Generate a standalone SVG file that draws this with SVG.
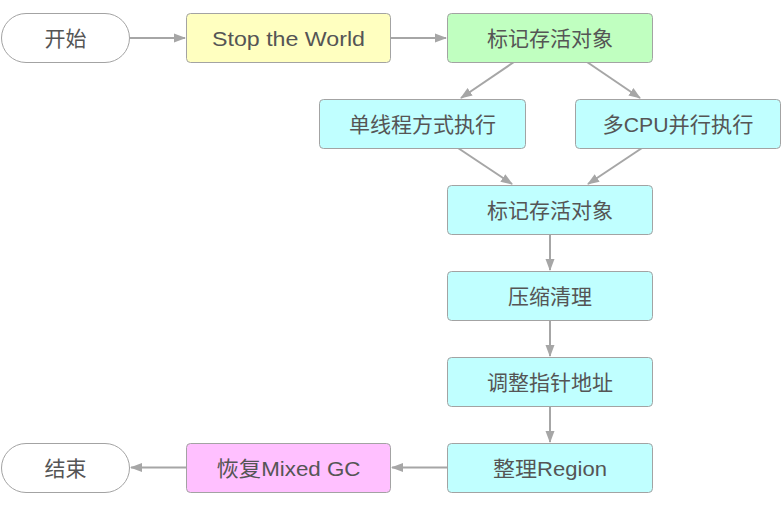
<svg xmlns="http://www.w3.org/2000/svg" width="782" height="505" viewBox="0 0 782 505">
<defs>
<style>
.n{stroke:#a3a3a3;stroke-width:1}
.t{font-family:"Liberation Sans","Noto Sans CJK SC",sans-serif;font-size:21px;fill:#555555;text-anchor:middle}
.c{stroke:#a6a6a6;stroke-width:2;fill:none;marker-end:url(#ah)}
</style>
<marker id="ah" viewBox="0 0 12 10" refX="11" refY="5" markerWidth="12" markerHeight="10" markerUnits="userSpaceOnUse" orient="auto">
<path d="M0,0.5 L12,5 L0,9.5 z" fill="#a6a6a6"/>
</marker>
</defs>
<rect width="782" height="505" fill="#ffffff"/>
<g id="connectors">
<path class="c" d="M130,38 L185,38"/>
<path class="c" d="M391,38 L446,38"/>
<path class="c" d="M514,62 L461,98"/>
<path class="c" d="M587,62 L640,98"/>
<path class="c" d="M458,148 L512,184"/>
<path class="c" d="M642,148 L588,184"/>
<path class="c" d="M550,234 L550,270"/>
<path class="c" d="M550,320 L550,356"/>
<path class="c" d="M550,406 L550,442"/>
<path class="c" d="M447,467.5 L392,467.5"/>
<path class="c" d="M186,467.5 L131,467.5"/>
</g>
<g id="start"><rect class="n" x="1.5" y="13.5" width="128" height="49" rx="24.5" fill="#ffffff"/><text class="t" x="65.5" y="45.5">开始</text></g>
<g id="stw"><rect class="n" x="186.5" y="13.5" width="204" height="49" rx="4" fill="#ffffc0"/><text class="t" x="288.5" y="45.5" textLength="153" lengthAdjust="spacingAndGlyphs">Stop the World</text></g>
<g id="mark1"><rect class="n" x="447.5" y="13.5" width="205" height="49" rx="4" fill="#c0ffc0"/><text class="t" x="550" y="45.5">标记存活对象</text></g>
<g id="single"><rect class="n" x="319.5" y="99.5" width="206" height="49" rx="4" fill="#c0ffff"/><text class="t" x="422.5" y="131.5">单线程方式执行</text></g>
<g id="multi"><rect class="n" x="575.5" y="99.5" width="205" height="49" rx="4" fill="#c0ffff"/><text class="t" x="678" y="131.5" textLength="151" lengthAdjust="spacingAndGlyphs">多CPU并行执行</text></g>
<g id="mark2"><rect class="n" x="447.5" y="185.5" width="205" height="49" rx="4" fill="#c0ffff"/><text class="t" x="550" y="217.5">标记存活对象</text></g>
<g id="compact"><rect class="n" x="447.5" y="271.5" width="205" height="49" rx="4" fill="#c0ffff"/><text class="t" x="550" y="303.5">压缩清理</text></g>
<g id="adjust"><rect class="n" x="447.5" y="357.5" width="205" height="49" rx="4" fill="#c0ffff"/><text class="t" x="550" y="389.5">调整指针地址</text></g>
<g id="region"><rect class="n" x="447.5" y="443.5" width="205" height="49" rx="4" fill="#c0ffff"/><text class="t" x="550" y="475.5" textLength="114" lengthAdjust="spacingAndGlyphs">整理Region</text></g>
<g id="resume"><rect class="n" x="186.5" y="443.5" width="204" height="49" rx="4" fill="#ffc0ff"/><text class="t" x="288.5" y="475.5" textLength="144" lengthAdjust="spacingAndGlyphs">恢复Mixed GC</text></g>
<g id="end"><rect class="n" x="1.5" y="443.5" width="128" height="49" rx="24.5" fill="#ffffff"/><text class="t" x="65.5" y="475.5">结束</text></g>
</svg>
